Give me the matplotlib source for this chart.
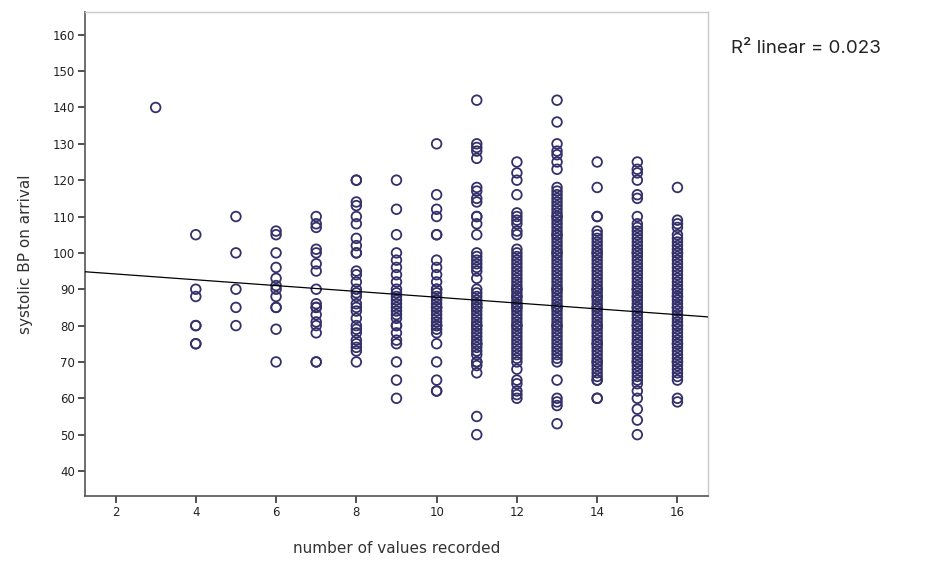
import numpy as np
import matplotlib
matplotlib.use('Agg')
import matplotlib.pyplot as plt

# values, one list per x column
bp_by_count = {
    3: [140],
    4: [105, 90, 88, 80, 80, 75, 75],
    5: [110, 100, 90, 85, 80],
    6: [106, 105, 100, 96, 93, 91, 90, 88, 85, 85, 79, 70],
    7: [110, 108, 107, 101, 100, 97, 95, 90, 86, 85, 85, 83, 81, 80, 78, 70, 70],
    8: [120, 120, 114, 113, 110, 108, 104, 102, 100, 100, 95, 94, 92, 90, 89, 88,
        86, 85, 84, 82, 80, 79, 78, 76, 75, 74, 73, 70],
    9: [120, 112, 105, 100, 98, 96, 94, 92, 90, 89, 88, 87, 86, 85, 84, 83, 82,
        80, 80, 78, 76, 75, 70, 65, 60],
    10: [130, 116, 112, 110, 105, 105, 98, 96, 94, 92, 90, 90, 89, 88, 87, 86, 85,
         85, 84, 83, 82, 81, 80, 80, 79, 78, 75, 70, 65, 62, 62],
    11: [142, 130, 129, 128, 126, 118, 117, 115, 114, 110, 110, 108, 105, 100, 99,
         98, 97, 96, 95, 93, 90, 89, 88, 87, 86, 86, 85, 85, 84, 83, 82, 81, 80,
         80, 79, 78, 77, 76, 75, 75, 74, 73, 72, 70, 70, 69, 67, 55, 50],
    12: [125, 122, 120, 116, 111, 110, 109, 108, 106, 105, 101, 100, 99, 98, 97,
         96, 95, 94, 93, 92, 91, 90, 90, 89, 88, 88, 87, 86, 86, 85, 85, 84, 83,
         82, 81, 80, 80, 79, 78, 77, 76, 75, 74, 73, 72, 71, 70, 68, 65, 64, 62,
         61, 60],
    13: [142, 136, 130, 128, 127, 125, 123, 118, 117, 116, 115, 114, 113, 112, 111,
         110, 110, 109, 108, 107, 106, 105, 105, 104, 103, 102, 101, 100, 100, 99,
         98, 97, 96, 95, 94, 93, 92, 91, 90, 90, 89, 88, 87, 86, 85, 85, 84, 83,
         82, 81, 80, 80, 79, 78, 77, 76, 75, 74, 73, 72, 71, 70, 65, 60, 59, 58, 53],
    14: [125, 118, 110, 110, 106, 105, 104, 103, 102, 101, 100, 100, 99, 98, 97, 96,
         95, 94, 93, 92, 91, 90, 90, 89, 88, 88, 87, 86, 85, 85, 84, 83, 82, 81,
         80, 80, 79, 78, 77, 76, 75, 75, 74, 73, 72, 71, 70, 70, 69, 68, 67, 66,
         65, 65, 60, 60],
    15: [125, 123, 122, 120, 116, 115, 110, 108, 107, 106, 105, 104, 103, 102, 101,
         100, 100, 99, 98, 97, 96, 95, 94, 93, 92, 91, 90, 90, 89, 88, 88, 87, 86,
         85, 85, 84, 83, 82, 81, 80, 80, 79, 78, 77, 76, 75, 75, 74, 73, 72, 71,
         70, 70, 69, 68, 67, 66, 65, 64, 62, 60, 57, 54, 50],
    16: [118, 109, 108, 107, 105, 104, 103, 102, 101, 100, 100, 99, 98, 97, 96, 95,
         94, 93, 92, 91, 90, 90, 89, 88, 88, 87, 86, 85, 85, 84, 83, 82, 81, 80,
         80, 79, 78, 77, 76, 75, 75, 74, 73, 72, 71, 70, 70, 69, 68, 67, 66, 65,
         60, 59],
}
# fit line as drawn in the reference
fit_intercept = 95.8
fit_slope = -0.80
x_ticks = [2, 4, 6, 8, 10, 12, 14, 16]
y_ticks = [40, 50, 60, 70, 80, 90, 100, 110, 120, 130, 140, 150, 160]
r2_label = 'R² linear = 0.023'

x = np.concatenate([[k] * len(v) for k, v in bp_by_count.items()]).astype(float)
y = np.concatenate([v for v in bp_by_count.values()]).astype(float)

fig = plt.figure(figsize=(9.27, 5.65), dpi=100)
ax = fig.add_axes([0.0917, 0.122, 0.672, 0.857])

ax.scatter(x, y, s=48, facecolors='none', edgecolors='#34306a', linewidths=1.3, zorder=3)

xlim = (1.24, 16.76)
xs = np.array(xlim)
ax.plot(xs, fit_intercept + fit_slope * xs, color='black', linewidth=0.9, zorder=4)

ax.set_xlim(*xlim)
ax.set_ylim(33.1, 166.3)
ax.set_xticks(x_ticks)
ax.set_yticks(y_ticks)

for side in ['left', 'bottom']:
    ax.spines[side].set_color('#555555')
    ax.spines[side].set_linewidth(1.2)
for side in ['top', 'right']:
    ax.spines[side].set_color('#c8c8c8')
    ax.spines[side].set_linewidth(1.0)

ax.tick_params(direction='out', length=5, width=1.2, color='#333333',
               labelsize=8.5, labelcolor='#222222', pad=2)

ax.set_xlabel('number of values recorded', fontsize=11, color='#333333', labelpad=16)
ax.set_ylabel('systolic BP on arrival', fontsize=11, color='#333333', labelpad=14)

fig.text(0.789, 0.915, r2_label, fontsize=13.5, color='#222222',
         family='Inter', va='center', ha='left')

fig.savefig('out.png', dpi=100)
